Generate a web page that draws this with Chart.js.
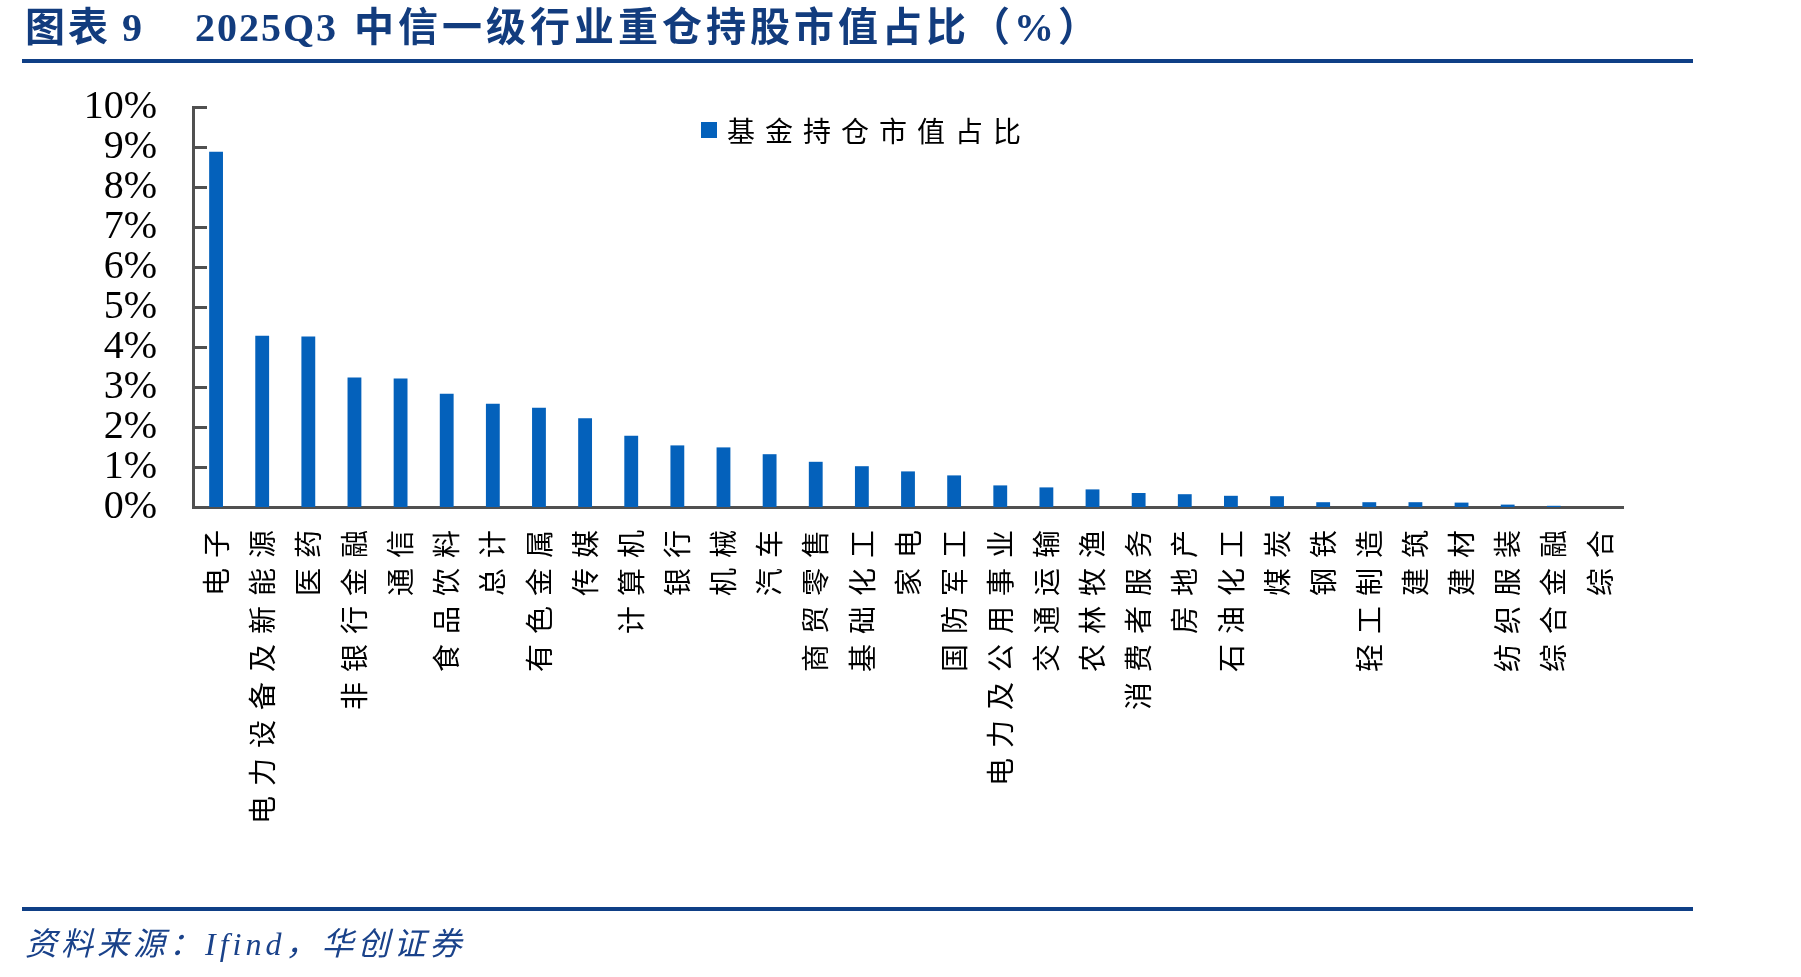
<!DOCTYPE html>
<html>
<head>
<meta charset="utf-8">
<script src="https://cdn.jsdelivr.net/npm/chart.js@4.4.1/dist/chart.umd.min.js"></script>
<style>
  html, body { margin: 0; padding: 0; background: #ffffff; width: 1801px; height: 977px; overflow: hidden; }
  #wrap { position: relative; width: 1801px; height: 977px; }
  #c { position: absolute; left: 0; top: 0; }
  .t { position: absolute; color: #123c7e; font-weight: bold; white-space: nowrap; line-height: 1;
       font-family: "Liberation Serif", "Noto Sans CJK SC", serif; font-size: 40px; }
  .rule { position: absolute; left: 22px; width: 1671px; height: 4px; background: #0f3f86; }
  .src { position: absolute; left: 25px; top: 928px; color: #1a428a; font-style: italic; white-space: nowrap;
         line-height: 1; font-family: "Liberation Serif", "Noto Sans CJK SC", serif; font-size: 32px; letter-spacing: 4px; }
</style>
</head>
<body>
<div id="wrap">
  <canvas id="c" width="1801" height="977"></canvas>
  <div class="t" style="left:25px;top:8px;letter-spacing:3px;">图表</div>
  <div class="t" style="left:122px;top:8px;">9</div>
  <div class="t" style="left:195px;top:8px;letter-spacing:2px;">2025Q3</div>
  <div class="t" style="left:354px;top:8px;letter-spacing:4px;">中信一级行业重仓持股市值占比（%）</div>
  <div class="rule" style="top:59px;"></div>
  <div class="rule" style="top:907px;"></div>
  <div class="src">资料来源：Ifind，华创证券</div>
</div>
<script>
// ---- data ----
const categories = ["电子","电力设备及新能源","医药","非银行金融","通信","食品饮料","总计","有色金属","传媒","计算机",
  "银行","机械","汽车","商贸零售","基础化工","家电","国防军工","电力及公用事业","交通运输","农林牧渔",
  "消费者服务","房地产","石油化工","煤炭","钢铁","轻工制造","建筑","建材","纺织服装","综合金融","综合"];
const seriesName = "基金持仓市值占比";
const values = [8.88, 4.28, 4.26, 3.24, 3.21, 2.83, 2.58, 2.48, 2.22, 1.78,
  1.54, 1.49, 1.32, 1.13, 1.02, 0.89, 0.79, 0.54, 0.49, 0.44,
  0.35, 0.32, 0.28, 0.27, 0.12, 0.12, 0.12, 0.11, 0.06, 0.03, 0.00];
const yTicks = [0, 1, 2, 3, 4, 5, 6, 7, 8, 9, 10];

const AXIS = '#505050';
const BAR = '#0461bb';

const spacingPlugin = {
  id: 'spacing',
  beforeDraw(chart) { chart.ctx.letterSpacing = '10px'; },
  afterDatasetsDraw(chart) { chart.ctx.letterSpacing = '0px'; },
  afterDraw(chart) { chart.ctx.letterSpacing = '0px'; }
};

const innerTicks = {
  id: 'innerTicks',
  afterDraw(chart) {
    const y = chart.scales.y, ctx = chart.ctx, left = chart.chartArea.left;
    ctx.save();
    ctx.strokeStyle = AXIS; ctx.lineWidth = 3;
    y.ticks.forEach(t => {
      const py = Math.round(y.getPixelForValue(t.value)) + 0.5;
      ctx.beginPath(); ctx.moveTo(left, py); ctx.lineTo(left + 14, py); ctx.stroke();
    });
    ctx.restore();
  }
};

const legendInArea = {
  id: 'legendInArea',
  afterDraw(chart) {
    const ctx = chart.ctx, ds = chart.data.datasets[0];
    ctx.save();
    ctx.fillStyle = ds.backgroundColor;
    ctx.fillRect(701, 122, 16, 16);
    ctx.font = '28px "Noto Sans CJK SC"';
    ctx.letterSpacing = '10px';
    ctx.fillStyle = '#000';
    ctx.textBaseline = 'middle';
    ctx.textAlign = 'left';
    ctx.fillText(ds.label, 727, 131);
    ctx.restore();
  }
};

new Chart(document.getElementById('c'), {
  type: 'bar',
  data: {
    labels: categories,
    datasets: [{ label: seriesName, data: values, backgroundColor: BAR, borderWidth: 0,
                 barPercentage: 0.3, categoryPercentage: 1.0 }]
  },
  options: {
    responsive: false, animation: false, devicePixelRatio: 1,
    layout: { padding: { left: 0, top: 107, right: 178, bottom: 0 } },
    plugins: { legend: { display: false }, tooltip: { enabled: false }, title: { display: false } },
    scales: {
      x: {
        grid: { display: false, drawTicks: false },
        border: { display: true, color: AXIS, width: 3 },
        ticks: { autoSkip: false, maxRotation: 90, minRotation: 90, padding: 13, color: '#000',
                 font: { family: '"Noto Sans CJK SC"', size: 28 } },
        afterFit(s) { s.height = 470; }
      },
      y: {
        min: 0, max: 10,
        afterBuildTicks(s) { s.ticks = yTicks.map(v => ({ value: v })); },
        grid: { display: false, drawTicks: false },
        border: { display: true, color: AXIS, width: 3 },
        ticks: { z: 1, autoSkip: false, padding: 36, color: '#000', font: { family: '"Liberation Serif"', size: 40 },
                 callback: v => v + '%' },
        afterFit(s) { s.width = 193; }
      }
    }
  },
  plugins: [spacingPlugin, innerTicks, legendInArea]
});
</script>
</body>
</html>
